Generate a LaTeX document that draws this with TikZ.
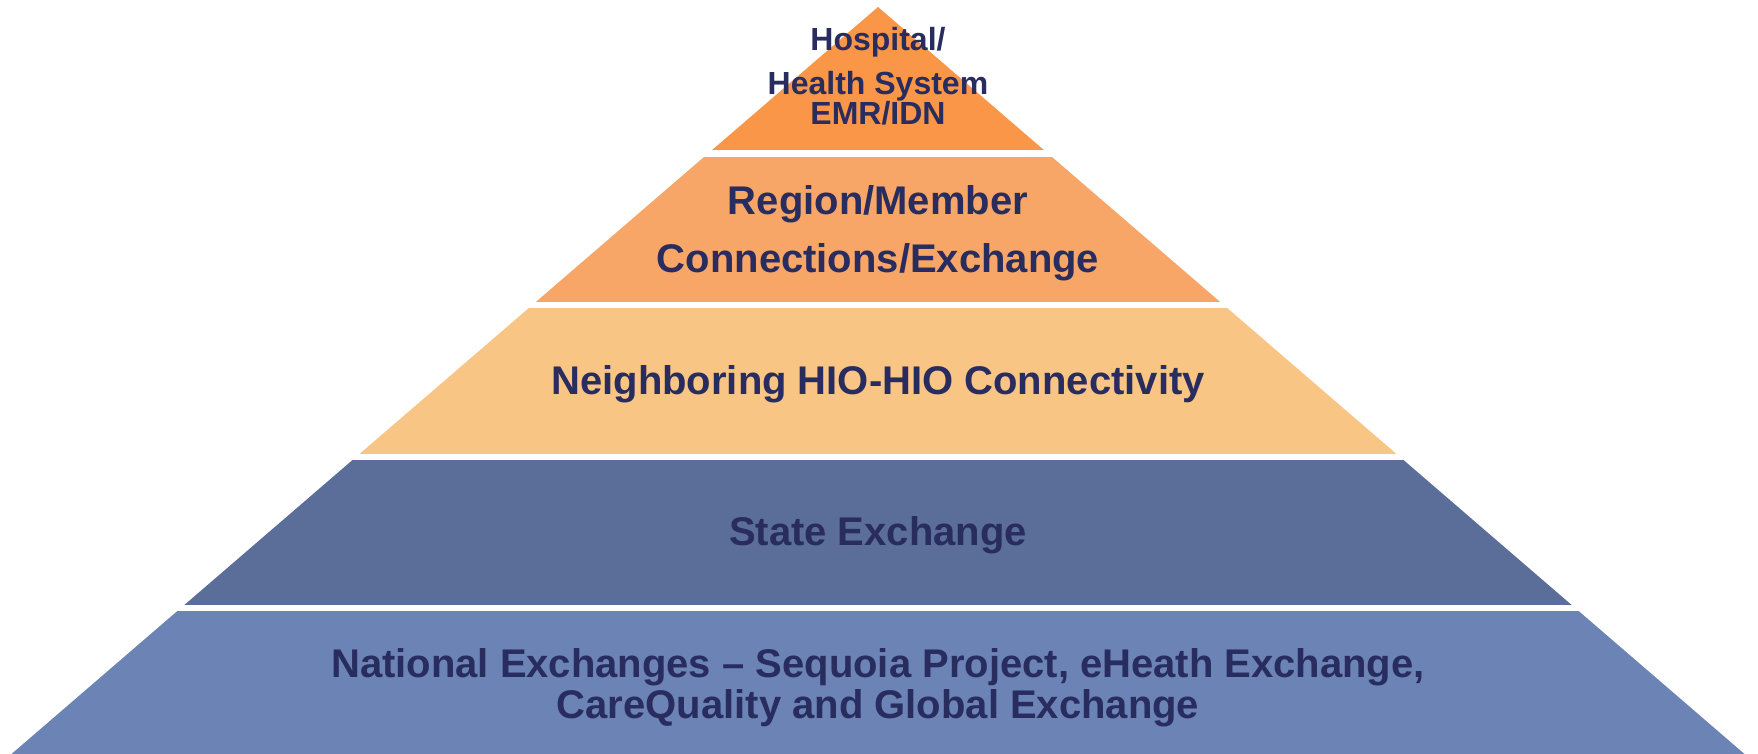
\documentclass[tikz,border=0pt]{standalone}
\usepackage{fontspec}
\setmainfont{Liberation Sans}
\usepackage{xcolor}
\usepackage{tikz}

\definecolor{hospOrange}{RGB}{250,150,72}
\definecolor{regionOrange}{RGB}{247,166,104}
\definecolor{neighbourTan}{RGB}{249,197,133}
\definecolor{stateBlue}{RGB}{91,110,153}
\definecolor{nationalBlue}{RGB}{107,131,181}
\definecolor{labelNavy}{RGB}{40,44,94}

\tikzset{
	tierlabel/.style={text=labelNavy, font=\bfseries\fontsize{20}{29}\selectfont, align=center, inner sep=0pt},
	toplabel/.style={tierlabel, font=\bfseries\fontsize{16}{15}\selectfont}
}

\begin{document}
\begin{tikzpicture}[x=0.5pt,y=-0.5pt]
	\useasboundingbox (0,0) rectangle (1758,754);
	% pyramid cut into five bands
	\begin{scope}
		\clip (878,7) -- (1744.5,754) -- (11.5,754) -- cycle;
		\fill[hospOrange] (0,0) rectangle (1758,150);
		\fill[regionOrange] (0,157) rectangle (1758,302);
		\fill[neighbourTan] (0,308) rectangle (1758,454);
		\fill[stateBlue] (0,460) rectangle (1758,605);
		\fill[nationalBlue] (0,611) rectangle (1758,754);
	\end{scope}
	\node[toplabel] at (878,76) (hosp) {Hospital/\\[7pt]Health System\\EMR/IDN};
	\node[tierlabel] at (878,233.5) (region) {Region/Member\\Connections/Exchange};
	\node[tierlabel] at (878,384.5) (neighbour) {Neighboring HIO-HIO Connectivity};
	\node[tierlabel] at (878,535.5) (state) {State Exchange};
	\node[tierlabel, font=\bfseries\fontsize{20}{20.5}\selectfont] at (878,687.5) (national) {National Exchanges – Sequoia Project, eHeath Exchange,\\CareQuality and Global Exchange};
\end{tikzpicture}
\end{document}
